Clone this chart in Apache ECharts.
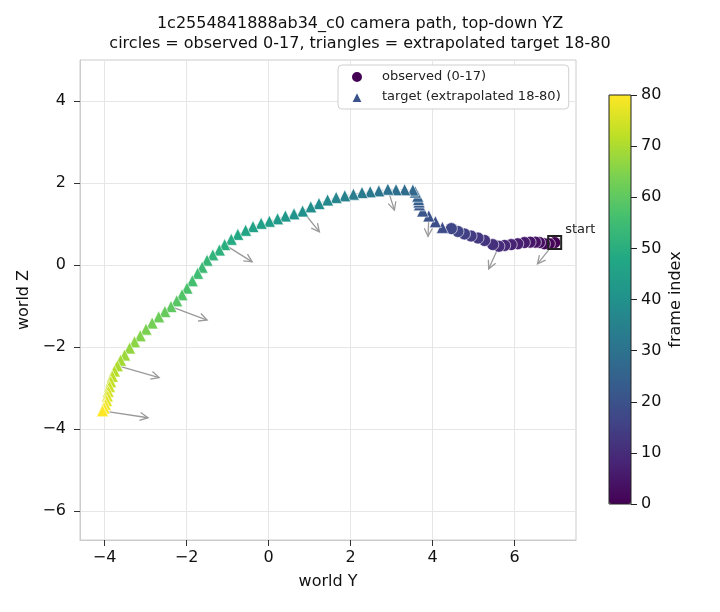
<!DOCTYPE html>
<html>
<head>
<meta charset="utf-8">
<script src="https://cdn.jsdelivr.net/npm/echarts@6/dist/echarts.min.js"></script>
<style>
  html, body { margin: 0; padding: 0; background: #fff; }
  #chart { width: 720px; height: 612px; }
</style>
</head>
<body>
<div id="chart"></div>
<script>
// observed frames 0-17 (world Y, world Z)
var observedY = [6.98, 6.85, 6.73, 6.61, 6.51, 6.38, 6.24, 6.08, 5.92, 5.76, 5.62, 5.47, 5.27, 5.11, 4.94, 4.78, 4.62, 4.46];
var observedZ = [0.55, 0.52, 0.52, 0.55, 0.56, 0.56, 0.55, 0.52, 0.50, 0.48, 0.46, 0.50, 0.60, 0.66, 0.71, 0.76, 0.82, 0.89];

// extrapolated target frames 18-80
var targetY = [4.24, 4.07, 3.91, 3.76, 3.68, 3.67, 3.66, 3.64, 3.58, 3.52, 3.32, 3.11, 2.91, 2.69, 2.48,
  2.28, 2.07, 1.86, 1.65, 1.44, 1.23, 1.03, 0.83, 0.62, 0.41, 0.22, 0.02, -0.18, -0.38, -0.56,
  -0.75, -0.91, -1.07, -1.20, -1.36, -1.50, -1.62, -1.73, -1.86, -1.99, -2.11, -2.24, -2.38, -2.53, -2.68,
  -2.84, -2.99, -3.13, -3.27, -3.39, -3.51, -3.61, -3.69, -3.76, -3.81, -3.85, -3.88, -3.91, -3.93, -3.95,
  -3.98, -4.01, -4.05];
var targetZ = [0.92, 1.06, 1.20, 1.32, 1.47, 1.54, 1.60, 1.68, 1.78, 1.83, 1.84, 1.84, 1.85, 1.81, 1.79,
  1.77, 1.73, 1.69, 1.65, 1.59, 1.50, 1.42, 1.32, 1.25, 1.20, 1.13, 1.07, 1.02, 0.94, 0.85,
  0.75, 0.63, 0.50, 0.37, 0.25, 0.12, -0.05, -0.20, -0.38, -0.56, -0.72, -0.87, -1.01, -1.13, -1.26,
  -1.41, -1.56, -1.72, -1.87, -2.02, -2.19, -2.32, -2.45, -2.58, -2.71, -2.84, -2.96, -3.08, -3.19, -3.30,
  -3.40, -3.48, -3.55];

// heading arrows every 10 frames: arrow tip positions
var arrowFrames = [0, 10, 20, 30, 40, 50, 60, 70, 80];
var arrowEndY = [6.56, 5.37, 3.89, 3.07, 1.24, -0.40, -1.50, -2.67, -2.94];
var arrowEndZ = [0.03, -0.09, 0.70, 1.34, 0.81, 0.08, -1.34, -2.74, -3.72];

var xTicks = [-4, -2, 0, 2, 4, 6];
var yTicks = [-6, -4, -2, 0, 2, 4];
var frameTicks = [0, 10, 20, 30, 40, 50, 60, 70, 80];

var viridis = ['#440154', '#482475', '#414487', '#355f8d', '#2a788e', '#21918c',
  '#22a884', '#44bf70', '#7ad151', '#bddf26', '#fde725'];

var FONT = 'DejaVu Sans';
var fmt = function(v) { return v < 0 ? '\u2212' + Math.abs(v) : String(v); };

var allY = observedY.concat(targetY);
var allZ = observedZ.concat(targetZ);

var pathData = allY.map(function(y, i) { return [y, allZ[i]]; });
var obsData = observedY.map(function(y, i) { return [y, observedZ[i], i]; });
var tgtData = targetY.map(function(y, i) { return [y, targetZ[i], i + observedY.length]; });
var arrowData = arrowFrames.map(function(f, i) {
  return [allY[f], allZ[f], arrowEndY[i], arrowEndZ[i]];
});

var option = {
  backgroundColor: '#fff',
  animation: false,
  title: {
    text: '1c2554841888ab34_c0 camera path, top-down YZ\ncircles = observed 0-17, triangles = extrapolated target 18-80',
    left: 'center',
    top: 9,
    padding: [5, 29, 5, 5],
    textStyle: { fontFamily: FONT, fontSize: 16, fontWeight: 'normal', color: '#111', lineHeight: 20 }
  },
  legend: {
    orient: 'vertical',
    left: 338,
    top: 65,
    padding: [5, 8, 5, 12],
    itemWidth: 12,
    itemHeight: 12,
    itemGap: 6,
    backgroundColor: '#fff',
    borderColor: '#d0d0d0',
    borderWidth: 1,
    borderRadius: 4,
    textStyle: { fontFamily: FONT, fontSize: 13, color: '#222', lineHeight: 14, padding: [0, 0, 0, 14] },
    data: [
      { name: 'observed (0-17)', icon: 'circle', itemStyle: { color: '#440154', opacity: 1 } },
      { name: 'target (extrapolated 18-80)', icon: 'triangle', itemStyle: { color: '#3b528b', opacity: 1 } }
    ]
  },
  grid: [
    { left: 80, top: 60, width: 496, height: 480, show: true, borderColor: '#cccccc', borderWidth: 1, backgroundColor: '#fff' },
    { left: 609, top: 95, width: 22, height: 409, show: true, borderColor: '#222', borderWidth: 1, backgroundColor: 'transparent', z: 10 }
  ],
  xAxis: [
    {
      type: 'value', gridIndex: 0, min: -4.6, max: 7.5,
      name: 'world Y', nameLocation: 'middle', nameGap: 34,
      nameTextStyle: { fontFamily: FONT, fontSize: 16, color: '#111' },
      axisLine: { show: true, onZero: false, lineStyle: { color: '#cccccc' } },
      axisTick: { show: true, length: 6, customValues: xTicks, lineStyle: { color: '#333' } },
      axisLabel: { customValues: xTicks, margin: 10, formatter: fmt, fontFamily: FONT, fontSize: 16, color: '#111' },
      splitLine: { show: true, lineStyle: { color: '#e6e6e6', width: 1 } }
    },
    { type: 'value', gridIndex: 1, min: 0, max: 1, show: false }
  ],
  yAxis: [
    {
      type: 'value', gridIndex: 0, min: -6.7, max: 5.0,
      name: 'world Z', nameLocation: 'middle', nameGap: 46, nameRotate: 90,
      nameTextStyle: { fontFamily: FONT, fontSize: 16, color: '#111' },
      axisLine: { show: true, onZero: false, lineStyle: { color: '#cccccc' } },
      axisTick: { show: true, length: 6, customValues: yTicks, lineStyle: { color: '#333' } },
      axisLabel: { customValues: yTicks, margin: 14, formatter: fmt, fontFamily: FONT, fontSize: 16, color: '#111' },
      splitLine: { show: true, lineStyle: { color: '#e6e6e6', width: 1 } }
    },
    {
      type: 'value', gridIndex: 1, min: 0, max: 80, position: 'right',
      name: 'frame index', nameLocation: 'middle', nameGap: 37, nameRotate: 90,
      nameTextStyle: { fontFamily: FONT, fontSize: 16, color: '#111' },
      axisLine: { show: false, onZero: false },
      axisTick: { show: true, length: 6, customValues: frameTicks, lineStyle: { color: '#222' } },
      axisLabel: { customValues: frameTicks, margin: 10, fontFamily: FONT, fontSize: 16, color: '#111' },
      splitLine: { show: false }
    }
  ],
  visualMap: {
    type: 'continuous',
    min: 0,
    max: 80,
    dimension: 2,
    seriesIndex: [2, 3],
    calculable: false,
    left: 609,
    top: 95,
    padding: 0,
    itemWidth: 22,
    itemHeight: 409,
    text: null,
    inRange: { color: viridis }
  },
  series: [
    {
      type: 'line',
      data: pathData,
      symbol: 'none',
      z: 1,
      silent: true,
      lineStyle: { color: '#aaaaaa', width: 1, type: [3, 2], opacity: 0.7 }
    },
    {
      type: 'custom',
      data: arrowData,
      z: 2,
      silent: true,
      encode: { x: [0, 2], y: [1, 3] },
      renderItem: function(params, api) {
        var p0 = api.coord([api.value(0), api.value(1)]);
        var p1 = api.coord([api.value(2), api.value(3)]);
        var ang = Math.atan2(p1[1] - p0[1], p1[0] - p0[0]);
        var hl = 9, hw = 0.46;
        var a1 = [p1[0] - hl * Math.cos(ang - hw), p1[1] - hl * Math.sin(ang - hw)];
        var a2 = [p1[0] - hl * Math.cos(ang + hw), p1[1] - hl * Math.sin(ang + hw)];
        var st = { stroke: '#9a9a9a', lineWidth: 1.3, fill: null };
        return {
          type: 'group',
          children: [
            { type: 'line', shape: { x1: p0[0], y1: p0[1], x2: p1[0], y2: p1[1] }, style: st },
            { type: 'polyline', shape: { points: [a1, p1, a2] }, style: st }
          ]
        };
      }
    },
    {
      name: 'observed (0-17)',
      type: 'scatter',
      data: obsData,
      symbol: 'circle',
      symbolSize: 12,
      z: 3,
      itemStyle: { color: '#440154', borderColor: '#fff', borderWidth: 0.6, opacity: 1 }
    },
    {
      name: 'target (extrapolated 18-80)',
      type: 'scatter',
      data: tgtData,
      symbol: 'triangle',
      symbolSize: 12,
      z: 3,
      itemStyle: { color: '#3b528b', borderColor: '#fff', borderWidth: 0.6, opacity: 1 }
    },
    {
      type: 'scatter',
      data: [[observedY[0], observedZ[0]]],
      symbol: 'rect',
      symbolSize: 13,
      z: 4,
      silent: true,
      itemStyle: { color: 'rgba(0,0,0,0)', borderColor: '#222', borderWidth: 2, opacity: 1 },
      label: {
        show: true,
        formatter: 'start',
        position: [18, -12],
        align: 'left',
        verticalAlign: 'top',
        fontFamily: FONT,
        fontSize: 13,
        color: '#222'
      }
    }
  ]
};

var chart = echarts.init(document.getElementById('chart'));
chart.setOption(option);
</script>
</body>
</html>
